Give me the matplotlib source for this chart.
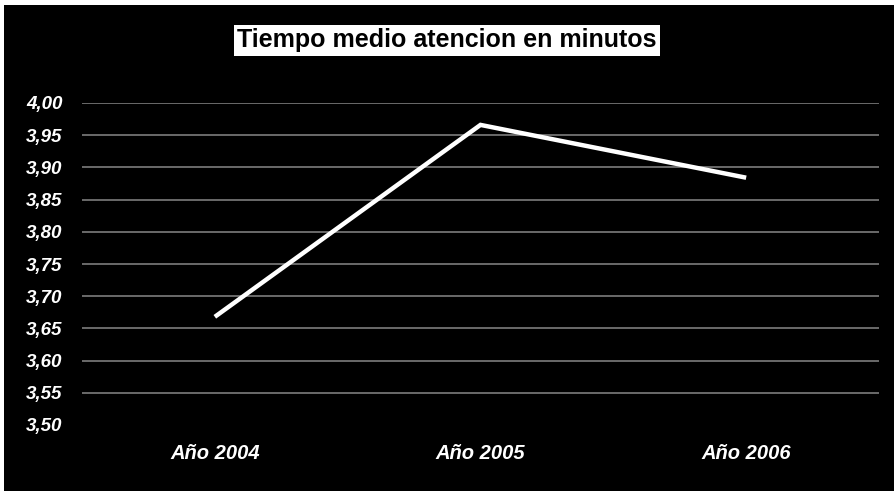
import matplotlib.pyplot as plt
from matplotlib.patches import Rectangle

plt.rcParams["font.family"] = ["Liberation Sans", "DejaVu Sans"]

years = ["Año 2004", "Año 2005", "Año 2006"]
minutes = [3.668, 3.966, 3.884]
y_ticks = [3.50, 3.55, 3.60, 3.65, 3.70, 3.75, 3.80, 3.85, 3.90, 3.95, 4.00]

fig = plt.figure(figsize=(8.95, 4.91), dpi=100, facecolor="white")
# black chart area with a thin white strip at top and left
fig.patches.append(Rectangle((4 / 895, 0), 1, 1 - 5 / 491, transform=fig.transFigure,
                             facecolor="black", edgecolor="none", zorder=-5))

ax = fig.add_axes([82 / 895, 1 - 425 / 491, (879 - 82) / 895, (425 - 103) / 491])
ax.set_zorder(5)
ax.set_facecolor("black")

x = list(range(len(years)))
ax.plot(x, minutes, color="white", linewidth=3.2, solid_capstyle="butt",
        solid_joinstyle="miter", zorder=3)

ax.set_xlim(-0.5, len(years) - 0.5)
ax.set_ylim(3.50, 4.00)
ax.set_yticks(y_ticks)
ax.set_yticklabels([f"{v:.2f}".replace(".", ",") for v in y_ticks])
ax.set_xticks(x)
ax.set_xticklabels(years)

for t in ax.get_yticklabels():
    t.set_color("white")
    t.set_fontstyle("italic")
    t.set_fontweight("bold")
    t.set_fontsize(13.5)
for t in ax.get_xticklabels():
    t.set_color("white")
    t.set_fontstyle("italic")
    t.set_fontweight("bold")
    t.set_fontsize(14.5)

ax.tick_params(axis="both", length=0)
ax.tick_params(axis="y", pad=14)
ax.tick_params(axis="x", pad=14)

for v in y_ticks[1:]:
    ax.axhline(v, color="#737373", linewidth=1.3, zorder=1)

for s in ax.spines.values():
    s.set_visible(False)

fig.text(447 / 895, 1 - 40 / 491, "Tiempo medio atencion en minutos", ha="center", va="center",
         fontsize=18, fontweight="bold", color="black", zorder=10,
         bbox=dict(facecolor="white", edgecolor="none", pad=2.5))

fig.savefig("out.png", dpi=100, facecolor=fig.get_facecolor())
